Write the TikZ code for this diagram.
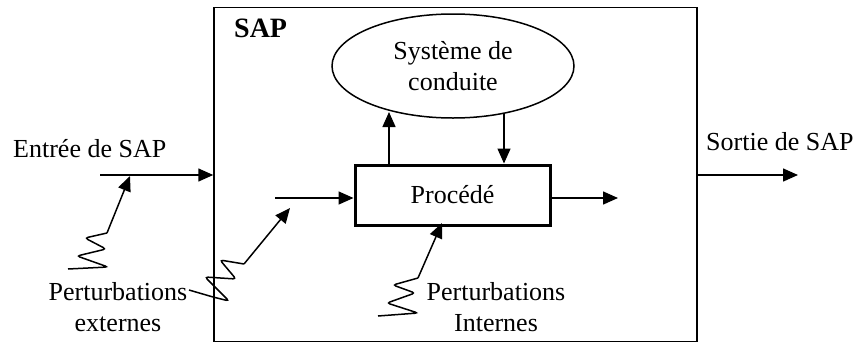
\documentclass[tikz,border=0pt]{standalone}
\usepackage{fontspec}
\setmainfont{Liberation Serif}
\usetikzlibrary{arrows.meta,shapes.geometric}
\begin{document}
\begin{tikzpicture}[x=1pt,y=-1pt,
  font=\fontsize{26}{31}\selectfont,
  thin line/.style={line width=1.5pt},
  arr/.style={thin line,-{Triangle[length=15pt,width=13pt]}},
  zig/.style={thin line,rounded corners=3pt},
  txt/.style={inner sep=0pt,anchor=base west}]
\useasboundingbox (0,0) rectangle (856,343);
% outer SAP box
\node[draw,thin line,minimum width=483pt,minimum height=334pt,inner sep=0pt] (sap) at (455.5,174.5) {};
\node[txt,font=\fontsize{28}{31}\selectfont\bfseries] (saplbl) at (234,37) {SAP};
% control system
\node[draw,thin line,ellipse,minimum width=242pt,minimum height=104pt,inner sep=0pt,align=center] (ell) at (453,66) {Système de\\conduite};
% process
\node[draw,line width=3pt,minimum width=195pt,minimum height=60pt,inner sep=0pt] (proc) at (452.5,195) {Procédé};
% labels
\node[txt] (entree) at (13,157) {Entrée de SAP};
\node[txt] (sortie) at (706,150) {Sortie de SAP};
\node[inner sep=0pt,align=center] (pext) at (118,307) {Perturbations\\externes};
\node[inner sep=0pt,align=center] (pint) at (496,307) {Perturbations\\Internes};
% SAP input / output
\coordinate (ein) at (100,175);
\coordinate (eout) at (798,175);
\draw[arr] (ein) -- (ein -| sap.west);
\draw[arr] (eout -| sap.east) -- (eout);
% process input / output
\coordinate (pin) at (275,198);
\coordinate (pout) at (618,198);
\draw[arr] (pin) -- (pin -| proc.west);
\draw[arr] (pout -| proc.east) -- (pout);
% loop with control system
\coordinate (up) at (389,112);
\coordinate (dn) at (504,113);
\draw[arr] (up |- proc.north) -- (up);
\draw[arr] (dn) -- (dn |- proc.north);
% disturbances
\coordinate (t1) at (130,176);
\coordinate (t2) at (290,208);
\coordinate (t3) at (442,223);
\coordinate (s2) at (189,290);
\draw[zig] (68,269) -- (108,267) -- (77,256) -- (106,249) -- (85,238) -- (107,233) coordinate (z1);
\draw[arr] (z1) -- (t1);
\draw[zig] (s2) -- (213,297) -- (229,301) -- (205,277) -- (236,279) -- (220,260) -- (244,264) coordinate (z2);
\draw[arr] (z2) -- (t2);
\draw[zig] (378,316) -- (418,313) -- (387,303) -- (415,293) -- (393,285) -- (418,278) coordinate (z3);
\draw[arr] (z3) -- (t3);
\end{tikzpicture}
\end{document}
